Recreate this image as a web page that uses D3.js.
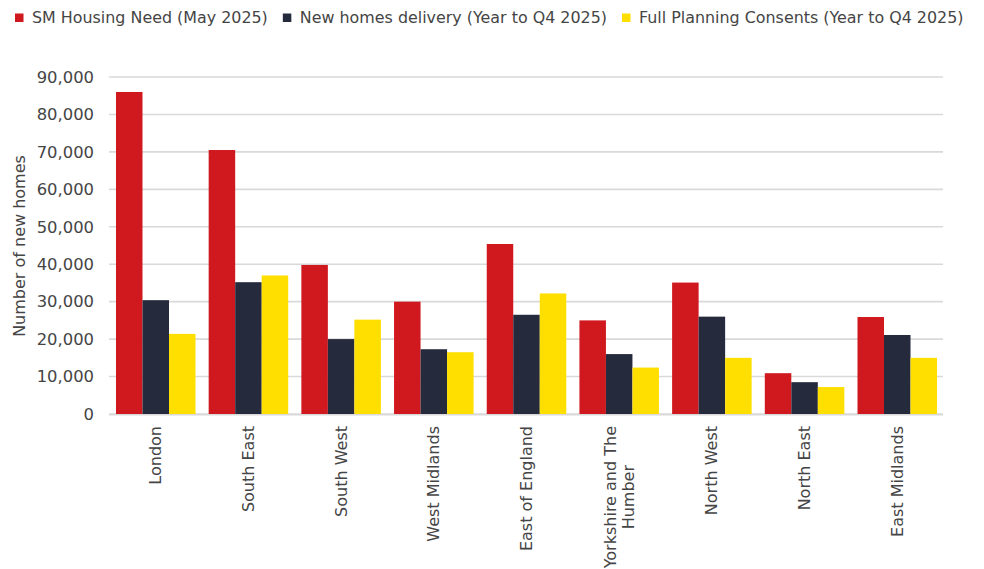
<!DOCTYPE html>
<html><head><meta charset="utf-8">
<script src="https://cdn.jsdelivr.net/npm/d3@7"></script>
<style>
html,body{margin:0;padding:0;background:#fff;}
svg{display:block;}
text{font-family:"DejaVu Sans",sans-serif;fill:#454545;}
</style></head>
<body><svg id="chart" width="984" height="569"></svg>
<script>
const categories = ["London","South East","South West","West Midlands","East of England","Yorkshire and The Humber","North West","North East","East Midlands"];
const seriesNames = ["SM Housing Need (May 2025)","New homes delivery (Year to Q4 2025)","Full Planning Consents (Year to Q4 2025)"];
const housingNeed = [86000,70500,39800,30000,45400,25000,35100,10900,25900];
const newHomes    = [30400,35200,20000,17300,26500,16000,26000,8500,21100];
const consents    = [21400,37000,25200,16500,32200,12400,15000,7200,15000];
const yTicks = [0,10000,20000,30000,40000,50000,60000,70000,80000,90000];
const colors = ["#D0191F","#262A3D","#FFDF00"];
const yTitle = "Number of new homes";

const series = [housingNeed,newHomes,consents];
const svg = d3.select("#chart");

const x0 = d3.scaleBand().domain(categories).range([109.4,943.6]).paddingInner(0.142).paddingOuter(0.071);
const x1 = d3.scaleBand().domain(d3.range(series.length)).range([0,x0.bandwidth()]);
const y = d3.scaleLinear().domain([0,90000]).range([414,77]);

// gridlines
svg.append("g").selectAll("line").data(yTicks).join("line")
  .attr("x1",109).attr("x2",943)
  .attr("y1",d=>y(d)).attr("y2",d=>y(d))
  .attr("stroke","#d9d9d9").attr("stroke-width",1.6);

// y axis labels
const yAxis = d3.axisLeft(y).tickValues(yTicks).tickFormat(d3.format(",")).tickSize(0).tickPadding(0);
const gy = svg.append("g").attr("transform","translate(94,0)").call(yAxis);
gy.select(".domain").remove();
gy.selectAll("text").style("font-size","16.4px").attr("fill","#454545").attr("font-family",null);

// bars
const groups = svg.append("g").selectAll("g").data(categories).join("g")
  .attr("transform",d=>`translate(${x0(d)},0)`);
groups.selectAll("rect").data((d,i)=>series.map((s,k)=>({k,v:s[i]}))).join("rect")
  .attr("x",d=>x1(d.k)).attr("width",x1.bandwidth())
  .attr("y",d=>y(d.v)).attr("height",d=>y(0)-y(d.v))
  .attr("fill",d=>colors[d.k]);

// baseline
svg.append("line").attr("x1",109).attr("x2",943).attr("y1",y(0)+0.8).attr("y2",y(0)+0.8)
  .attr("stroke","#d9d9d9").attr("stroke-width",1.6);

// x labels rotated with wrapping
const xg = svg.append("g");
const fs = "16px";
const maxW = 155, lineH = 18;
categories.forEach(c=>{
  const words = c.split(" ");
  const probe = xg.append("text").style("font-size",fs);
  let lines=[], cur="";
  words.forEach(w=>{
    const t = cur ? cur+" "+w : w;
    probe.text(t);
    if (probe.node().getComputedTextLength() > maxW && cur){ lines.push(cur); cur=w; } else cur=t;
  });
  lines.push(cur);
  const widths = lines.map(l=>{probe.text(l);return probe.node().getComputedTextLength();});
  probe.remove();
  const mw = d3.max(widths);
  const cx = x0(c)+x0.bandwidth()/2;
  const g = xg.append("g").attr("transform",`translate(${cx},${426}) rotate(-90)`);
  lines.forEach((l,i)=>{
    g.append("text").style("font-size",fs).attr("text-anchor","middle")
      .attr("x",-mw/2).attr("y",(i-(lines.length-1)/2)*lineH).attr("dy","0.35em").text(l);
  });
});

// y title
svg.append("text").attr("transform","translate(19,246) rotate(-90)")
  .attr("text-anchor","middle").attr("dy","0.35em").style("font-size","16px").text(yTitle);

// legend
const lg = svg.append("g");
let lx = 15;
seriesNames.forEach((n,i)=>{
  lg.append("rect").attr("x",lx).attr("y",13.5).attr("width",8.5).attr("height",8.5).attr("fill",colors[i]);
  const t = lg.append("text").attr("x",lx+17).attr("y",22.5).style("font-size","15.9px").text(n);
  lx += 17 + t.node().getComputedTextLength() + 15;
});
</script></body></html>
